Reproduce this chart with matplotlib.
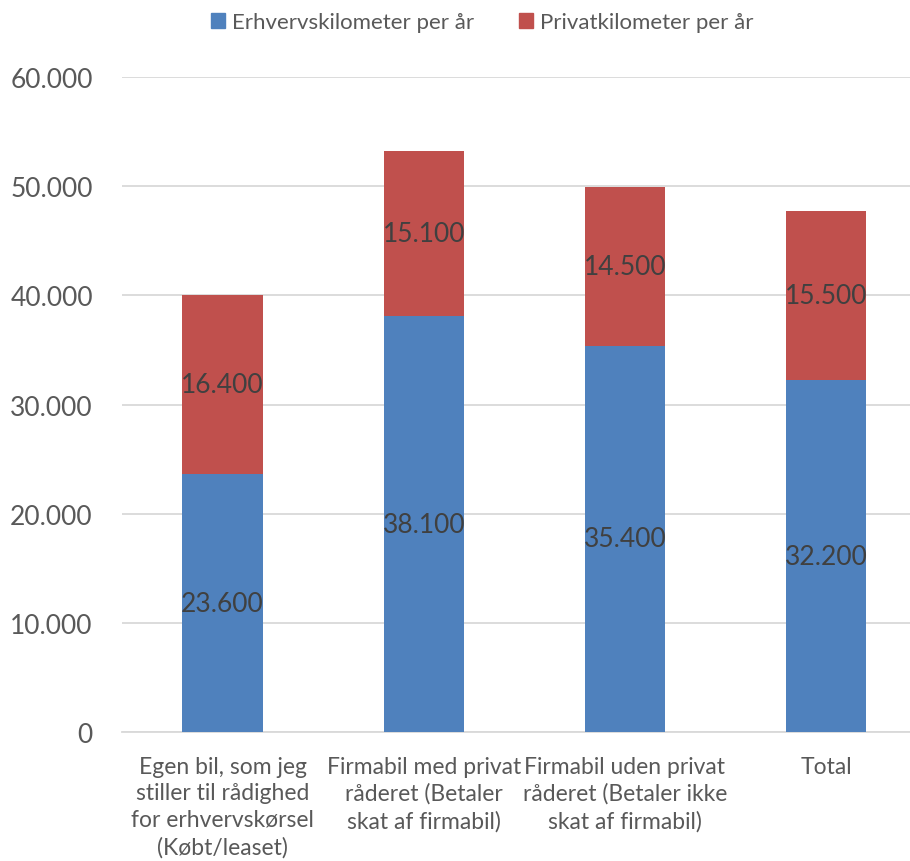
import matplotlib
matplotlib.use("Agg")
import matplotlib.pyplot as plt
from matplotlib.ticker import FuncFormatter
from matplotlib.patches import Patch

categories = [
    "Egen bil, som jeg\nstiller til rådighed\nfor erhvervskørsel\n(Købt/leaset)",
    "Firmabil med privat\nråderet (Betaler\nskat af firmabil)",
    "Firmabil uden privat\nråderet (Betaler ikke\nskat af firmabil)",
    "Total",
]
erhverv = [23600, 38100, 35400, 32200]
privat = [16400, 15100, 14500, 15500]
series_names = ["Erhvervskilometer per år", "Privatkilometer per år"]
yticks = [0, 10000, 20000, 30000, 40000, 50000, 60000]

blue = "#4F81BD"
red = "#C0504D"
font = ["Lato", "DejaVu Sans"]

fig = plt.figure(figsize=(9.10, 8.62), dpi=100)
ax = fig.add_axes([122 / 910, 1 - 733 / 862, 1 - 122 / 910, (733 - 78) / 862])

x = list(range(len(categories)))
w = 0.40
ax.bar(x, erhverv, width=w, color=blue, zorder=3)
ax.bar(x, privat, width=w, bottom=erhverv, color=red, zorder=3)

fmt = lambda v: f"{int(v):,}".replace(",", ".")
for i in x:
    ax.text(i, erhverv[i] / 2, fmt(erhverv[i]), ha="center", va="center",
            fontsize=19, color="#404040", family=font, zorder=4)
    ax.text(i, erhverv[i] + privat[i] / 2, fmt(privat[i]), ha="center", va="center",
            fontsize=19, color="#404040", family=font, zorder=4)

ax.set_ylim(0, 60000)
ax.set_xlim(-0.5, 3.417)
ax.set_yticks(yticks)
ax.yaxis.set_major_formatter(FuncFormatter(lambda v, p: fmt(v)))
ax.grid(axis="y", color="#D9D9D9", linewidth=1.3, zorder=0)
ax.set_axisbelow(True)
for s in ["top", "right", "left"]:
    ax.spines[s].set_visible(False)
ax.spines["bottom"].set_color("#D9D9D9")
ax.spines["bottom"].set_linewidth(1.3)
ax.tick_params(axis="y", length=0, pad=21, labelcolor="#595959")
ax.tick_params(axis="x", length=0, pad=17, labelcolor="#595959")
for lab in ax.get_yticklabels():
    lab.set_family(font)
    lab.set_fontsize(19)
ax.set_xticks(x)
ax.set_xticklabels(categories, family=font, fontsize=16.5, linespacing=1.33)

handles = [Patch(color=blue), Patch(color=red)]
fig.legend(handles, series_names, loc="center", bbox_to_anchor=(482 / 910, 1 - 23 / 862),
           ncol=2, frameon=False, prop={"family": font, "size": 16}, labelcolor="#595959",
           handlelength=0.65, handleheight=0.65, handletextpad=0.3, columnspacing=2.0)

fig.savefig("out.png", dpi=100)
